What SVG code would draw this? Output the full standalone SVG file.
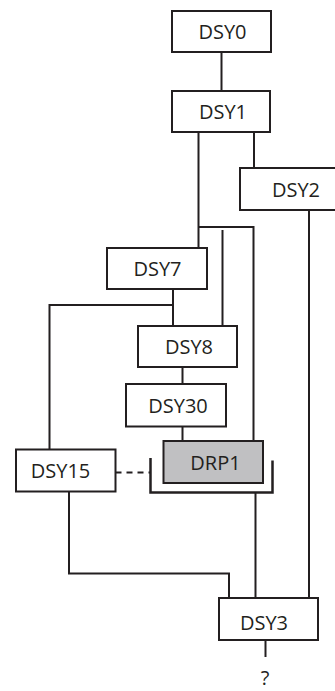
<svg xmlns="http://www.w3.org/2000/svg" width="335" height="691" viewBox="0 0 335 691">
<style>
.box{fill:#fff;stroke:#231f20;stroke-width:2}
.grey{fill:#c0c0c2}
.lbl{font-family:"Open Sans","Liberation Sans",sans-serif;font-size:20px;fill:#231f20;text-anchor:middle}
.ln{fill:none;stroke:#231f20;stroke-width:2}
.br{fill:none;stroke:#231f20;stroke-width:2.5}
.dash{fill:none;stroke:#231f20;stroke-width:2;stroke-dasharray:6,5}
</style>
<rect width="335" height="691" fill="#fff"/>
<g id="connectors">
<path class="ln" d="M221.5,52 V91"/>
<path class="ln" d="M254,132 V168"/>
<path class="ln" d="M309,210 V598"/>
<path class="ln" d="M198.5,132 V248 M198.5,227 H253.5 V441"/>
<path class="ln" d="M222.5,230 V326"/>
<path class="ln" d="M173,289 V326 M173,305 H49.5 V449.5"/>
<path class="ln" d="M182.5,367 V384 M182.5,426.5 V441"/>
<path class="br" d="M150.5,458 V492.5 H272.5 V460.5"/>
<path class="dash" d="M115.5,472.5 H150"/>
<path class="ln" d="M69,491.5 V573.5 H229 V598"/>
<path class="ln" d="M255.5,492.5 V598"/>
<path class="ln" d="M265.5,640 V657"/>
</g>
<g id="DSY0"><rect class="box" x="172" y="11" width="99" height="41"/><text class="lbl" x="222.5" y="39">DSY0</text></g>
<g id="DSY1"><rect class="box" x="172" y="91" width="98" height="41"/><text class="lbl" x="223" y="119">DSY1</text></g>
<g id="DSY2"><rect class="box" x="240" y="168" width="112" height="42"/><text class="lbl" x="296" y="197">DSY2</text></g>
<g id="DSY7"><rect class="box" x="107" y="248" width="100" height="41"/><text class="lbl" x="157.5" y="276">DSY7</text></g>
<g id="DSY8"><rect class="box" x="138" y="326" width="99" height="41"/><text class="lbl" x="189" y="354">DSY8</text></g>
<g id="DSY30"><rect class="box" x="126" y="384" width="100" height="42.5"/><text class="lbl" x="178" y="413">DSY30</text></g>
<g id="DRP1"><rect class="box grey" x="163.5" y="441" width="99.5" height="42"/><text class="lbl" x="215.5" y="470">DRP1</text></g>
<g id="DSY15"><rect class="box" x="16" y="449.5" width="99.5" height="42"/><text class="lbl" x="60.5" y="478">DSY15</text></g>
<g id="DSY3"><rect class="box" x="219" y="598" width="99" height="42"/><text class="lbl" x="264" y="629.5">DSY3</text></g>
<g id="Q"><text class="lbl" x="265" y="685">?</text></g>
</svg>
